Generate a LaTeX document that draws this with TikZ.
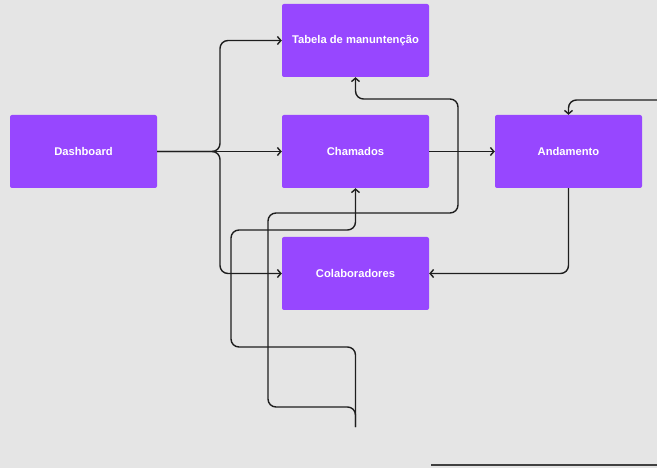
\documentclass[tikz,border=0pt]{standalone}
\usepackage{fontspec}
\setmainfont{Liberation Sans}
\usetikzlibrary{arrows.meta}
\definecolor{bg}{HTML}{E5E5E5}
\definecolor{boxc}{HTML}{9747FF}
\definecolor{linec}{HTML}{1E1E1E}
\tikzset{
  box/.style={draw=none, fill=boxc, rounded corners=2pt, minimum width=147pt, minimum height=73pt, inner sep=0pt, text=white, font=\fontsize{11.2}{13}\selectfont\bfseries},
  conn/.style={draw=linec, line width=1.4pt, -{Straight Barb[length=3.5pt,width=8pt,line width=1.4pt]}},
}
\begin{document}
\begin{tikzpicture}[x=1pt,y=-1pt]
\fill[bg] (0,0) rectangle (657,468);
\useasboundingbox (0,0) rectangle (657,468);
\node[box] (tab) at (355.5,40.5) {Tabela de manuntenção};
\node[box] (dash) at (83.5,151.5) {Dashboard};
\node[box] (cham) at (355.5,151.5) {Chamados};
\node[box] (and) at (568.5,151.5) {Andamento};
\node[box] (col) at (355.5,273.5) {Colaboradores};
\coordinate (jn) at (220,151.5);
\coordinate (src) at (355.5,427);
\coordinate (rsrc) at (657,100);
\coordinate (la) at (431,465);
\coordinate (lb) at (657,465);
\draw[conn] (dash.east) -- (cham.west);
\draw[conn,rounded corners=8pt] (dash.east) -- (jn) |- (tab.west);
\draw[conn,rounded corners=8pt] (dash.east) -- (jn) |- (col.west);
\draw[conn] (cham.east) -- (and.west);
\draw[conn,rounded corners=8pt] (and.south) |- (col.east);
\draw[conn,rounded corners=8pt] (rsrc) -| (and.north);
\draw[conn,rounded corners=8pt] (src) -- (355.5,407) -- (268,407) -- (268,213) -- (458,213) -- (458,99) -- (355.5,99) -- (tab.south);
\draw[conn,rounded corners=8pt] (src) -- (355.5,347) -- (231,347) -- (231,230) -- (355.5,230) -- (cham.south);
\draw[draw=gray!50!black, line width=1.5pt] (la) -- (lb);
\end{tikzpicture}
\end{document}
